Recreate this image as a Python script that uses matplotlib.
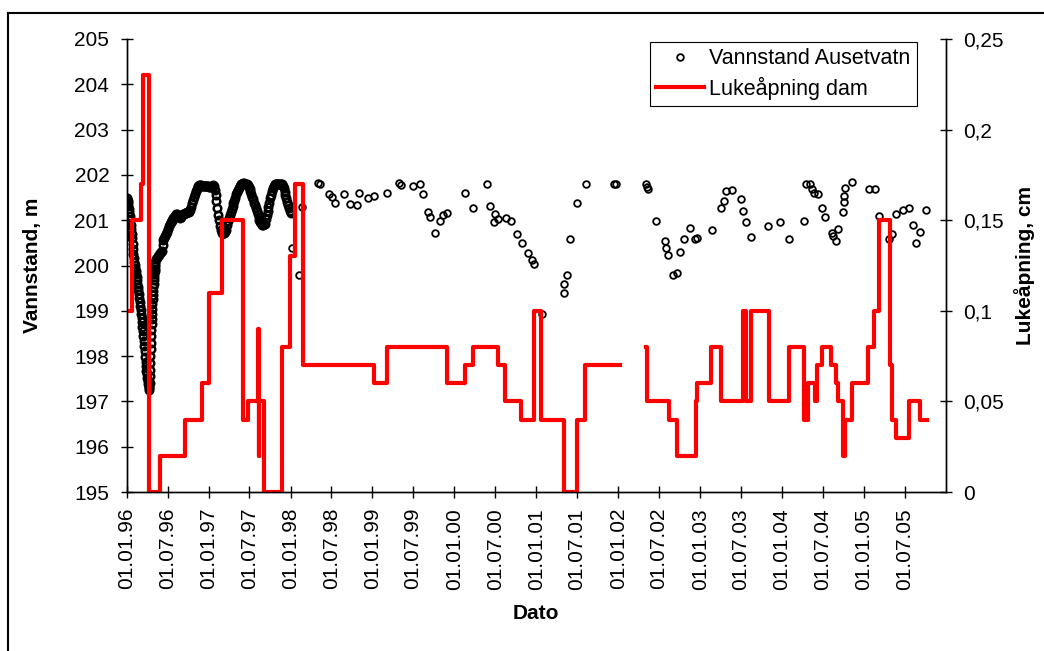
import numpy as np
import pandas as pd
import matplotlib
matplotlib.use("Agg")
import matplotlib.pyplot as plt
import matplotlib.dates as mdates
from matplotlib.ticker import FuncFormatter
from matplotlib.lines import Line2D

plt.rcParams['font.family'] = ['Liberation Sans', 'DejaVu Sans']

# Vannstand Ausetvatn, tett serie 1996-1997 (lest av figuren)
vann_a = [201.48, 201.46, 201.43, 201.38, 201.32, 201.25, 201.18, 201.10, 201.00,
          200.90, 200.80, 200.70, 200.60, 200.48, 200.36, 200.25, 200.16, 200.08,
          200.02, 199.95, 199.88, 199.82, 199.74, 199.67, 199.60, 199.53, 199.46,
          199.38, 199.29, 199.20, 199.10, 199.02, 198.93, 198.85, 198.75, 198.65,
          198.55, 198.45, 198.34, 198.22, 198.11, 197.99, 197.88, 197.78, 197.68,
          197.60, 197.52, 197.45, 197.38, 197.32]
vann_b = [197.25, 197.30, 197.40, 197.55, 197.70, 197.85, 198.00, 198.15, 198.30,
          198.45, 198.58, 198.70, 198.82, 198.94, 199.05, 199.15, 199.25, 199.35,
          199.44, 199.52, 199.60, 199.68, 199.75, 199.82, 199.88, 199.93, 199.98,
          200.03, 200.08]
vann_c = [200.15, 200.17, 200.20, 200.23, 200.27, 200.29, 200.32, 200.45, 200.57,
          200.61, 200.65, 200.70, 200.75, 200.81, 200.87, 200.92, 200.95, 200.98,
          201.01, 201.04, 201.07, 201.10, 201.13, 201.14, 201.10, 201.07, 201.05,
          201.06, 201.09, 201.11, 201.13, 201.14, 201.15, 201.16, 201.17, 201.18,
          201.19, 201.21, 201.23, 201.30, 201.37, 201.44, 201.51, 201.58, 201.64,
          201.69, 201.73, 201.76, 201.78, 201.77, 201.77, 201.76, 201.76, 201.76,
          201.76, 201.76, 201.76, 201.75, 201.75, 201.74, 201.74, 201.75, 201.76,
          201.77, 201.76, 201.67, 201.56, 201.42, 201.27, 201.12, 201.00, 200.88,
          200.79, 200.71, 200.71, 200.72, 200.72, 200.75, 200.79, 200.90, 200.98,
          201.05, 201.12, 201.18, 201.24, 201.31, 201.37, 201.43, 201.50, 201.57,
          201.62, 201.67, 201.72, 201.76, 201.79, 201.80, 201.81, 201.82, 201.82,
          201.81, 201.81, 201.81, 201.77, 201.73, 201.68, 201.64, 201.58, 201.52,
          201.46, 201.39, 201.33, 201.26, 201.20, 201.14, 201.08, 201.01, 200.96,
          200.93, 200.90, 200.90, 200.91, 200.92, 201.02, 201.12, 201.20, 201.30,
          201.39, 201.48, 201.56, 201.64, 201.70, 201.75, 201.79, 201.81, 201.81,
          201.80, 201.80, 201.80, 201.81, 201.81, 201.81, 201.76, 201.70, 201.63,
          201.55, 201.48, 201.41, 201.34, 201.26, 201.20, 201.15]

# Enkeltmålinger 1998-2005
datoer_spredt = ["1998-01-07", "1998-02-06", "1998-02-21", "1998-05-01", "1998-05-13",
                 "1998-06-23", "1998-07-04", "1998-07-16", "1998-08-25", "1998-09-24",
                 "1998-10-24", "1998-11-03", "1998-12-14", "1999-01-06", "1999-03-07",
                 "1999-04-27", "1999-05-09", "1999-07-01", "1999-07-30", "1999-08-14",
                 "1999-09-06", "1999-09-16", "1999-10-07", "1999-10-31", "1999-11-12",
                 "1999-11-29", "2000-02-16", "2000-03-23", "2000-05-26", "2000-06-07",
                 "2000-06-24", "2000-06-29", "2000-07-12", "2000-08-19", "2000-09-11",
                 "2000-10-07", "2000-10-29", "2000-11-23", "2000-12-13", "2000-12-23",
                 "2001-01-27", "2001-05-03", "2001-05-05", "2001-05-18", "2001-05-30",
                 "2001-07-02", "2001-08-08", "2001-12-12", "2001-12-24", "2002-05-03",
                 "2002-05-10", "2002-05-15", "2002-06-20", "2002-07-28", "2002-08-03",
                 "2002-08-12", "2002-09-03", "2002-09-21", "2002-10-01", "2002-10-21",
                 "2002-11-19", "2002-12-09", "2002-12-16", "2003-02-21", "2003-04-06",
                 "2003-04-17", "2003-04-25", "2003-05-25", "2003-07-01", "2003-07-11",
                 "2003-07-26", "2003-08-18", "2003-10-31", "2003-12-22", "2004-02-01",
                 "2004-04-08", "2004-04-16", "2004-05-04", "2004-05-13", "2004-05-23",
                 "2004-06-10", "2004-06-28", "2004-07-10", "2004-08-09", "2004-08-16",
                 "2004-08-31", "2004-09-07", "2004-09-27", "2004-10-04", "2004-10-05",
                 "2004-10-08", "2004-11-10", "2005-01-21", "2005-02-18", "2005-03-09",
                 "2005-04-23", "2005-05-05", "2005-05-23", "2005-06-22", "2005-07-21",
                 "2005-08-07", "2005-08-19", "2005-09-07", "2005-10-04"]
vann_spredt = [200.38, 199.79, 201.30, 201.83, 201.80, 201.58, 201.52, 201.37, 201.57,
               201.35, 201.34, 201.59, 201.48, 201.54, 201.61, 201.83, 201.77, 201.75,
               201.80, 201.58, 201.19, 201.06, 200.72, 200.98, 201.11, 201.15, 201.59,
               201.28, 201.79, 201.32, 200.95, 201.13, 201.03, 201.04, 200.99, 200.70,
               200.49, 200.27, 200.12, 200.03, 198.94, 199.39, 199.59, 199.79, 200.59,
               201.39, 201.81, 201.80, 201.81, 201.81, 201.74, 201.68, 200.99, 200.54,
               200.39, 200.23, 199.79, 199.84, 200.30, 200.59, 200.83, 200.59, 200.60,
               200.78, 201.26, 201.43, 201.64, 201.67, 201.47, 201.21, 200.95, 200.64,
               200.87, 200.95, 200.59, 200.99, 201.81, 201.80, 201.68, 201.59, 201.57,
               201.26, 201.06, 200.71, 200.65, 200.53, 200.80, 201.19, 201.41, 201.53,
               201.72, 201.85, 201.68, 201.68, 201.09, 200.58, 200.70, 201.14, 201.23,
               201.28, 200.89, 200.49, 200.74, 201.23]

# Lukeåpning dam (trappetrinn, verdi gjelder fra dato)
datoer_luke = ["1996-01-01", "1996-01-23", "1996-03-03", "1996-03-15", "1996-04-11",
               "1996-05-28", "1996-09-18", "1996-12-03", "1997-01-02", "1997-03-01",
               "1997-06-02", "1997-06-27", "1997-08-10", "1997-08-12", "1997-08-15",
               "1997-09-06", "1997-11-25", "1997-12-30", "1998-01-21", "1998-02-25",
               "1999-01-06", "1999-03-07", "1999-11-29", "2000-02-16", "2000-03-23",
               "2000-07-12", "2000-08-16", "2000-10-26", "2000-12-20", "2001-01-22",
               "2001-05-06", "2001-07-02", "2001-08-05", "2002-01-08", "2002-05-03",
               "2002-05-08", "2002-08-15", "2002-09-21", "2002-12-12", "2002-12-16",
               "2003-02-20", "2003-04-06", "2003-07-13", "2003-07-25", "2003-08-15",
               "2003-11-02", "2004-02-01", "2004-04-08", "2004-04-25", "2004-05-28",
               "2004-06-07", "2004-06-26", "2004-08-05", "2004-08-28", "2004-09-07",
               "2004-09-27", "2004-09-30", "2004-10-06", "2004-11-10", "2005-01-19",
               "2005-02-15", "2005-03-07", "2005-04-26", "2005-05-04", "2005-05-23",
               "2005-07-21", "2005-09-07", "2005-10-09"]
luke = [0.10, 0.15, 0.17, 0.23, 0.0, 0.02, 0.04, 0.06, 0.11, 0.15,
        0.04, 0.05, 0.09, 0.02, 0.05, 0.0, 0.08, 0.13, 0.17, 0.07,
        0.06, 0.08, 0.06, 0.07, 0.08, 0.07, 0.05, 0.04, 0.10, 0.04,
        0.0, 0.04, 0.07, np.nan, 0.08, 0.05, 0.04, 0.02, 0.05, 0.06,
        0.08, 0.05, 0.10, 0.05, 0.10, 0.05, 0.08, 0.04, 0.06, 0.05,
        0.07, 0.08, 0.07, 0.06, 0.05, 0.04, 0.02, 0.04, 0.06, 0.08,
        0.10, 0.15, 0.07, 0.04, 0.03, 0.05, 0.04, 0.04]

tick_datoer = pd.date_range("1996-01-01", "2005-07-01", freq="6MS")

# sett sammen den tette serien
datoer_tett = pd.to_datetime(
    list(pd.date_range("1996-01-01", periods=len(vann_a), freq="2D")) +
    list(pd.date_range("1996-04-10", periods=len(vann_b), freq="D")) +
    list(pd.date_range("1996-05-12", periods=len(vann_c), freq="4D")))
vann_tett = vann_a + vann_b + vann_c

fig = plt.figure(figsize=(10.44, 6.51), dpi=100)
ax = fig.add_axes([126.7 / 1044, 1 - 492 / 651, (945.7 - 126.7) / 1044, 453 / 651])
ax2 = ax.twinx()

# daglige målinger overlapper i originalen -> litt tykkere kant i den tette delen
ax.plot(datoer_tett, vann_tett, linestyle='none', marker='o', ms=5.4, mfc='none',
        mec='black', mew=1.8)
ax.plot(pd.to_datetime(datoer_spredt), vann_spredt, linestyle='none', marker='o', ms=4.8,
        mfc='none', mec='black', mew=1.3, label='Vannstand Ausetvatn')
ax2.step(pd.to_datetime(datoer_luke), luke, where='post', color='#ff0000', lw=3,
         label='Lukeåpning dam')

ax.set_xlim(pd.Timestamp("1996-01-01"), pd.Timestamp("2005-12-31"))
ax.set_ylim(195, 205)
ax2.set_ylim(0, 0.25)
ax.set_yticks(range(195, 206))
ax2.set_yticks([0, 0.05, 0.1, 0.15, 0.2, 0.25])
ax2.yaxis.set_major_formatter(FuncFormatter(lambda v, p: ('%g' % round(v, 2)).replace('.', ',')))

ax.set_xticks(tick_datoer)
ax.xaxis.set_major_formatter(mdates.DateFormatter('%d.%m.%y'))
for lab in ax.get_xticklabels():
    lab.set_rotation(90)

for a in (ax, ax2):
    a.spines['top'].set_visible(False)
    for s in a.spines.values():
        s.set_linewidth(1)
ax.tick_params(axis='x', direction='inout', length=9, width=1, labelsize=15, pad=7)
ax.tick_params(axis='y', direction='inout', length=9, width=1, labelsize=15, pad=8)
ax2.tick_params(axis='y', direction='inout', length=9, width=1, labelsize=15, pad=8)

ax.set_ylabel('Vannstand, m', fontsize=15, fontweight='bold')
ax.yaxis.set_label_coords(-0.104, 0.5)
ax2.set_ylabel('Lukeåpning, cm', fontsize=15, fontweight='bold')
ax2.yaxis.set_label_coords(1.084, 0.5)
ax.set_xlabel('Dato', fontsize=15, fontweight='bold')
ax.xaxis.set_label_coords(0.5, -0.248)

h1, l1 = ax.get_legend_handles_labels()
h2, l2 = ax2.get_legend_handles_labels()
leg = ax2.legend(h1 + h2, l1 + l2, loc='upper right', bbox_to_anchor=(0.9646, 0.994),
                 borderaxespad=0, fontsize=15.5, fancybox=False, framealpha=1,
                 edgecolor='black', numpoints=1, handlelength=2.2, handletextpad=0.25,
                 labelspacing=0.35, borderpad=0.3)
leg.get_frame().set_linewidth(0.8)

# ramme rundt hele figuren (venstre og topp)
fig.add_artist(Line2D([8 / 1044, 8 / 1044], [0, 1 - 13 / 651], color='black', lw=1.5))
fig.add_artist(Line2D([8 / 1044, 1], [1 - 13 / 651, 1 - 13 / 651], color='black', lw=1.5))

fig.savefig('out.png', dpi=100)
